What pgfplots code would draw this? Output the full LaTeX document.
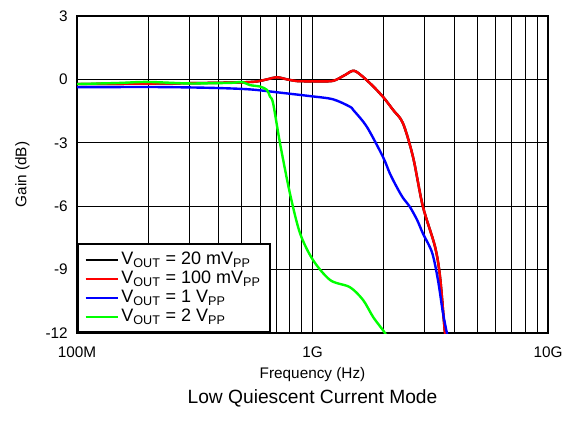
\documentclass[border=0pt]{standalone}
\usepackage{pgfplots}
\pgfplotsset{compat=1.18}
\usepackage{fontspec}
\setmainfont{Liberation Sans}
\begin{document}
\begin{tikzpicture}
\begin{axis}[
  name=ax,
  scale only axis,
  width=353.25pt, height=237.75pt,
  xmode=log,
  xmin=1e8, xmax=1e10,
  ymin=-12, ymax=3,
  xtick={1e8,1e9,1e10},
  xticklabels={100M,1G,10G},
  minor xtick={2e8,3e8,4e8,5e8,6e8,7e8,8e8,9e8,2e9,3e9,4e9,5e9,6e9,7e9,8e9,9e9},
  ytick={-12,-9,-6,-3,0,3},
  yticklabels={-12,-9,-6,-3,0,3},
  major tick length=0pt, minor tick length=0pt,
  xmajorgrids, xminorgrids, ymajorgrids,
  major grid style={black, line width=0.7pt},
  minor grid style={black, line width=0.6pt},
  axis line style={line width=1.8pt},
  ticklabel style={font=\fontsize{11.5}{13}\selectfont},
  xticklabel style={anchor=center, inner sep=0pt, yshift=-14.25pt},
  yticklabel style={anchor=east, inner sep=0pt, xshift=-6.75pt},
  xlabel={Frequency (Hz)},
  ylabel={Gain (dB)},
  label style={font=\fontsize{11.5}{13}\selectfont},
  xlabel style={at={(axis description cs:0.5,-0.1324)}, anchor=center},
  ylabel style={at={(axis description cs:-0.116,0.5)}, anchor=center},
  legend style={at={(axis description cs:0,0)}, anchor=south west,
    draw=black, line width=1.5pt, font=\fontsize{13.5}{14}\selectfont,
    inner xsep=5pt, inner ysep=4pt, row sep=-0.6pt},
  legend cell align=left,
  legend image code/.code={\draw[#1, line width=1.5pt] (0pt,0pt) -- (24pt,0pt);},
  every axis plot/.append style={line width=1.8pt, smooth, tension=0.5},
]
\addplot[black] coordinates {
(1e8,-0.22)(1.5e8,-0.21)(2e8,-0.2)(3e8,-0.18)(4e8,-0.16)(5e8,-0.14)(5.8e8,-0.1)
(6.4e8,0.0)(7.07e8,0.1)(7.8e8,0.0)(8.6e8,-0.08)(1e9,-0.09)(1.22e9,-0.07)
(1.37e9,0.2)(1.51e9,0.4)(1.75e9,-0.17)(1.99e9,-0.82)(2.2e9,-1.45)(2.42e9,-2.07)
(2.67e9,-3.66)(2.94e9,-6.0)(3.31e9,-7.9)(3.48e9,-9.35)(3.65e9,-12.0)(3.7e9,-12.5)
};
\addlegendentry{V\textsubscript{OUT} = 20 mV\textsubscript{PP}}
\addplot[red] coordinates {
(1e8,-0.22)(1.5e8,-0.21)(2e8,-0.2)(3e8,-0.18)(4e8,-0.16)(5e8,-0.14)(5.8e8,-0.1)
(6.4e8,0.0)(7.07e8,0.1)(7.8e8,0.0)(8.6e8,-0.08)(1e9,-0.09)(1.22e9,-0.07)
(1.37e9,0.2)(1.51e9,0.4)(1.75e9,-0.17)(1.99e9,-0.82)(2.2e9,-1.45)(2.42e9,-2.07)
(2.67e9,-3.66)(2.94e9,-6.0)(3.31e9,-7.9)(3.48e9,-9.35)(3.65e9,-12.0)(3.7e9,-12.5)
};
\addlegendentry{V\textsubscript{OUT} = 100 mV\textsubscript{PP}}
\addplot[blue] coordinates {
(1e8,-0.37)(2e8,-0.36)(3e8,-0.38)(4e8,-0.41)(5e8,-0.45)(5.8e8,-0.5)(7.07e8,-0.61)
(9.75e8,-0.79)(1.22e9,-0.94)(1.44e9,-1.29)(1.49e9,-1.45)(1.70e9,-2.24)(1.99e9,-3.66)
(2.13e9,-4.45)(2.28e9,-5.1)(2.42e9,-5.6)(2.59e9,-6.03)(2.78e9,-6.65)(2.94e9,-7.28)
(3.22e9,-8.2)(3.41e9,-9.5)(3.58e9,-11.05)(3.72e9,-12.0)(3.8e9,-12.5)
};
\addlegendentry{V\textsubscript{OUT} = 1 V\textsubscript{PP}}
\addplot[green] coordinates {
(1e8,-0.22)(1.5e8,-0.17)(1.98e8,-0.12)(2.93e8,-0.19)(3.8e8,-0.18)(4.6e8,-0.16)
(5.0e8,-0.12)(5.43e8,-0.27)(5.99e8,-0.34)(6.41e8,-0.5)(6.6e8,-0.82)(6.8e8,-1.12)
(7.28e8,-3.03)(8.02e8,-5.4)(8.85e8,-7.28)(1.005e9,-8.55)(1.19e9,-9.5)(1.44e9,-9.83)
(1.64e9,-10.44)(1.81e9,-11.25)(2.03e9,-12.0)(2.1e9,-12.4)
};
\addlegendentry{V\textsubscript{OUT} = 2 V\textsubscript{PP}}
\end{axis}
\node[font=\fontsize{14.4}{16}\selectfont, anchor=center] at ([yshift=-48.75pt]ax.south) {Low Quiescent Current Mode};
\path ([xshift=-57.75pt,yshift=-65.25pt]ax.south west) rectangle ([xshift=21pt,yshift=12pt]ax.north east);
\end{tikzpicture}
\end{document}
